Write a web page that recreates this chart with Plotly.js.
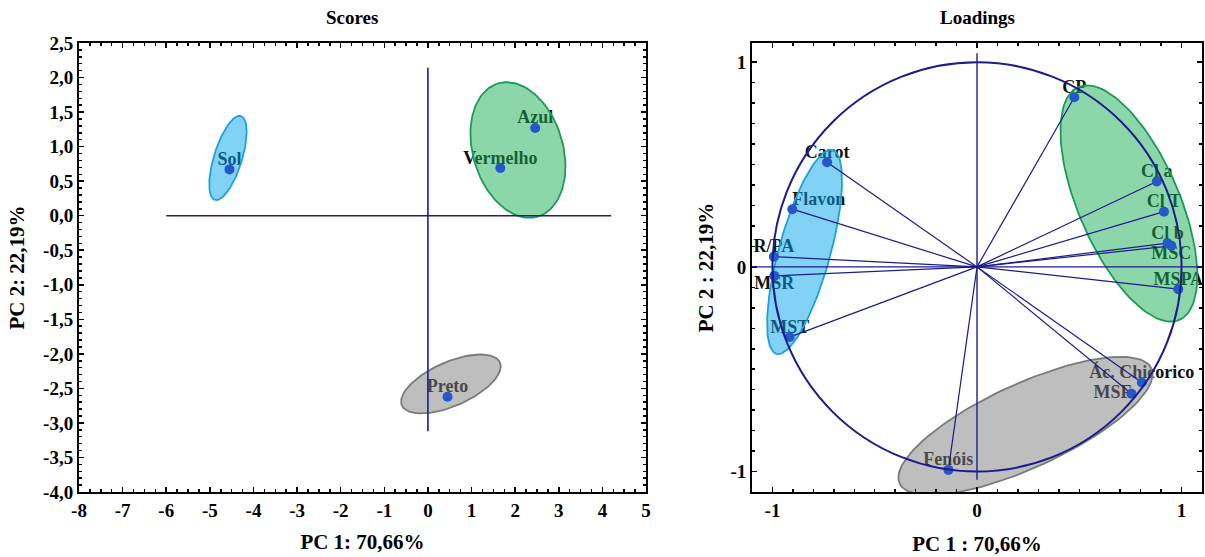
<!DOCTYPE html>
<html>
<head>
<meta charset="utf-8">
<script src="https://cdn.plot.ly/plotly-3.0.1.min.js"></script>
<style>html,body{margin:0;padding:0;background:#fff;}#chart{width:1205px;height:557px;}</style>
</head>
<body>
<div id="chart"></div>
<script>
// ---------- Data ----------
const scoresNames = ['Sol', 'Vermelho', 'Azul', 'Preto'];
const scoresPC1 = [-4.55, 1.66, 2.46, 0.45];
const scoresPC2 = [0.67, 0.69, 1.27, -2.62];

const loadingNames = ['CP', 'Carot', 'Flavon', 'R/PA', 'MSR', 'MST', 'Cl a', 'Cl T', 'Cl b', 'MSC', 'MSPA', 'Ác. Chicorico', 'MSF', 'Fenóis'];
const loadingPC1 = [0.476, -0.733, -0.903, -0.993, -0.991, -0.916, 0.879, 0.914, 0.931, 0.950, 0.984, 0.806, 0.755, -0.140];
const loadingPC2 = [0.829, 0.511, 0.282, 0.050, -0.044, -0.343, 0.417, 0.270, 0.116, 0.103, -0.109, -0.565, -0.620, -0.992];

// group ellipses: centre, major semi-axis vector, minor semi-axis vector (data units)
const scoresEllipseSol = [[-4.585, 0.835], [0.298, 0.608], [0.307, -0.059]];
const scoresEllipseGreen = [[2.064, 0.951], [-0.459, 0.963], [0.988, 0.188]];
const scoresEllipseGray = [[0.527, -2.436], [1.123, 0.311], [0.203, -0.292]];
const loadEllipseBlue = [[-0.843, 0.073], [0.137, 0.498], [0.1215, -0.0334]];
const loadEllipseGreen = [[0.7426, 0.310], [-0.2467, 0.569], [0.226, 0.098]];
const loadEllipseGray = [[0.237, -0.777], [0.6155, 0.281], [0.085, -0.187]];

// tick labels
const scoresXTickVals = [-8, -7, -6, -5, -4, -3, -2, -1, 0, 1, 2, 3, 4, 5];
const scoresXTickText = ['-8', '-7', '-6', '-5', '-4', '-3', '-2', '-1', '0', '1', '2', '3', '4', '5'];
const scoresYTickVals = [2.5, 2, 1.5, 1, 0.5, 0, -0.5, -1, -1.5, -2, -2.5, -3, -3.5, -4];
const scoresYTickText = ['2,5', '2,0', '1,5', '1,0', '0,5', '0,0', '-0,5', '-1,0', '-1,5', '-2,0', '-2,5', '-3,0', '-3,5', '-4,0'];
const loadTickVals = [-1, 0, 1];
const loadTickText = ['-1', '0', '1'];

// ---------- Styles ----------
const FONT = 'Liberation Serif, Times New Roman, serif';
const NAVY = '#1c1c8c';
const DOT = '#2456cc';
const scoresTextPos = ['top center', 'top center', 'top center', 'top center'];
const loadTextPos = ['top center', 'top center', 'top right', 'top center', 'bottom center', 'top center', 'top center', 'top center', 'top center', 'bottom center', 'top center', 'top center', 'middle left', 'top center'];
const FILL_BLUE = 'rgba(5,165,235,0.5)', EDGE_BLUE = '#1ea0dc';
const FILL_GREEN = 'rgba(25,175,85,0.5)', EDGE_GREEN = '#1d9a55';
const FILL_GRAY = 'rgba(125,125,125,0.5)', EDGE_GRAY = '#7a7a7a';

function ellipse(e, xa, ya, fill, line) {
  const xs = [], ys = [];
  const n = 120;
  for (let i = 0; i <= n; i++) {
    const t = 2 * Math.PI * i / n;
    xs.push(e[0][0] + e[1][0] * Math.cos(t) + e[2][0] * Math.sin(t));
    ys.push(e[0][1] + e[1][1] * Math.cos(t) + e[2][1] * Math.sin(t));
  }
  return {x: xs, y: ys, xaxis: xa, yaxis: ya, mode: 'lines', fill: 'toself', fillcolor: fill,
    line: {color: line, width: 1.8}, hoverinfo: 'skip', showlegend: false};
}

const labelFont = {family: FONT, size: 18, color: '#111', weight: 'bold'};

const rayX = [], rayY = [];
loadingPC1.forEach((v, i) => { rayX.push(0, v, null); rayY.push(0, loadingPC2[i], null); });

const traces = [
  {x: scoresPC1, y: scoresPC2, text: scoresNames, mode: 'text', textposition: scoresTextPos,
    textfont: labelFont, xaxis: 'x', yaxis: 'y', showlegend: false, hoverinfo: 'skip'},
  ellipse(scoresEllipseSol, 'x', 'y', FILL_BLUE, EDGE_BLUE),
  ellipse(scoresEllipseGreen, 'x', 'y', FILL_GREEN, EDGE_GREEN),
  ellipse(scoresEllipseGray, 'x', 'y', FILL_GRAY, EDGE_GRAY),
  {x: scoresPC1, y: scoresPC2, mode: 'markers', marker: {color: DOT, size: 10},
    xaxis: 'x', yaxis: 'y', showlegend: false, name: 'Scores'},

  {x: loadingPC1, y: loadingPC2, text: loadingNames, mode: 'text', textposition: loadTextPos,
    textfont: labelFont, xaxis: 'x2', yaxis: 'y2', showlegend: false, hoverinfo: 'skip'},
  ellipse(loadEllipseBlue, 'x2', 'y2', FILL_BLUE, EDGE_BLUE),
  ellipse(loadEllipseGreen, 'x2', 'y2', FILL_GREEN, EDGE_GREEN),
  ellipse(loadEllipseGray, 'x2', 'y2', FILL_GRAY, EDGE_GRAY),
  {x: rayX, y: rayY, mode: 'lines', line: {color: NAVY, width: 1.2}, xaxis: 'x2', yaxis: 'y2',
    showlegend: false, hoverinfo: 'skip'},
  {x: loadingPC1, y: loadingPC2, mode: 'markers', marker: {color: DOT, size: 10},
    xaxis: 'x2', yaxis: 'y2', showlegend: false, name: 'Loadings'}
];

const tickFont = {family: FONT, size: 19, color: '#000', weight: 'bold'};
const titleFont = {family: FONT, size: 21, color: '#000', weight: 'bold'};
function axisBase() {
  return {
    showgrid: false, zeroline: false, showline: true, linewidth: 2, linecolor: '#000',
    mirror: 'allticks', ticks: 'inside', ticklen: 5, tickwidth: 1.5, tickcolor: '#000',
    tickfont: tickFont, tickmode: 'array', fixedrange: true
  };
}

const layout = {
  width: 1205, height: 557,
  margin: {l: 79, r: 3, t: 43, b: 65},
  paper_bgcolor: '#fff', plot_bgcolor: '#fff',
  showlegend: false,
  xaxis: Object.assign(axisBase(), {
    domain: [0, 0.5049], range: [-8, 5], anchor: 'y',
    tickvals: scoresXTickVals, ticktext: scoresXTickText,
    minor: {ticks: 'inside', ticklen: 3, tickcolor: '#000', dtick: 0.25, tick0: 0},
    title: {text: 'PC 1: 70,66%', font: titleFont, standoff: 15}
  }),
  yaxis: Object.assign(axisBase(), {
    domain: [0, 1], range: [-4, 2.5], anchor: 'x',
    tickvals: scoresYTickVals, ticktext: scoresYTickText,
    minor: {ticks: 'inside', ticklen: 3, tickcolor: '#000', dtick: 0.1, tick0: 0},
    title: {text: 'PC 2: 22,19%', font: titleFont, standoff: 13}
  }),
  xaxis2: Object.assign(axisBase(), {
    domain: [0.5993, 1], range: [-1.1, 1.1], anchor: 'y2',
    tickvals: loadTickVals, ticktext: loadTickText,
    minor: {ticks: 'inside', ticklen: 3, tickcolor: '#000', dtick: 0.1, tick0: 0},
    title: {text: 'PC 1 : 70,66%', font: titleFont, standoff: 17}
  }),
  yaxis2: Object.assign(axisBase(), {
    domain: [0, 1], range: [-1.1, 1.094], anchor: 'x2',
    tickvals: loadTickVals, ticktext: loadTickText,
    minor: {ticks: 'inside', ticklen: 3, tickcolor: '#000', dtick: 0.1, tick0: 0},
    title: {text: 'PC 2 : 22,19%', font: titleFont, standoff: 11}
  }),
  shapes: [
    {type: 'line', xref: 'x', yref: 'y', x0: -6, x1: 4.2, y0: 0, y1: 0, line: {color: NAVY, width: 1.6}, layer: 'above'},
    {type: 'line', xref: 'x', yref: 'y', x0: 0, x1: 0, y0: -3.12, y1: 2.14, line: {color: NAVY, width: 1.6}, layer: 'above'},
    {type: 'line', xref: 'x2', yref: 'y2', x0: -1.1, x1: 1.1, y0: 0, y1: 0, line: {color: NAVY, width: 1.4}, layer: 'above'},
    {type: 'line', xref: 'x2', yref: 'y2', x0: 0, x1: 0, y0: -1.04, y1: 1.044, line: {color: NAVY, width: 1.4}, layer: 'above'},
    {type: 'circle', xref: 'x2', yref: 'y2', x0: -1, x1: 1, y0: -1, y1: 1, line: {color: NAVY, width: 2}, layer: 'above'}
  ],
  annotations: [
    {text: 'Scores', xref: 'paper', yref: 'paper', x: 0.2431, y: 1.0557, xanchor: 'center', yanchor: 'middle',
      showarrow: false, font: {family: FONT, size: 19, color: '#000', weight: 'bold'}},
    {text: 'Loadings', xref: 'paper', yref: 'paper', x: 0.8005, y: 1.0557, xanchor: 'center', yanchor: 'middle',
      showarrow: false, font: {family: FONT, size: 19, color: '#000', weight: 'bold'}}
  ]
};

Plotly.newPlot('chart', traces, layout, {displayModeBar: false, staticPlot: true});
</script>
</body>
</html>
